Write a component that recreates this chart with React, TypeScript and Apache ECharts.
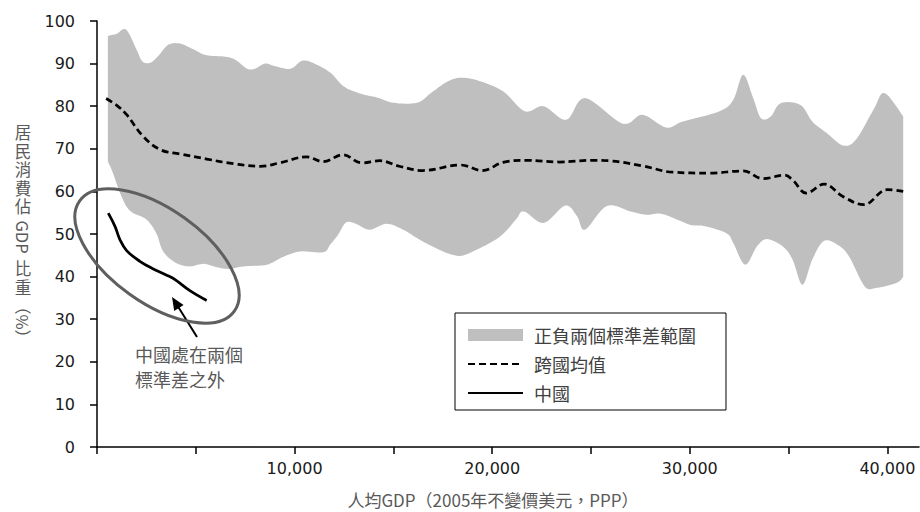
import React, { useEffect, useRef } from "react";
import * as echarts from "echarts";

// ---- data (x: per-capita GDP, 2005 constant USD PPP; y: % of GDP) ----
const xTickValues = [0, 5000, 10000, 15000, 20000, 25000, 30000, 35000, 40000];
const xLabelValues = [10000, 20000, 30000, 40000];

const upperBand: [number, number][] = [
  [550, 96.5], [1000, 97.0], [1470, 98.0], [2000, 93.3], [2300, 90.5], [2700, 90.2],
  [3100, 91.8], [3600, 94.4], [4200, 94.7], [4900, 93.3], [5500, 92.0], [6500, 91.6],
  [7000, 90.9], [7600, 88.8], [8000, 88.8], [8500, 90.0], [9100, 89.3], [9800, 88.8],
  [10400, 90.7], [11000, 90.0], [11800, 87.9], [12500, 84.6], [13300, 83.0], [14200, 82.0],
  [15000, 80.8], [16200, 80.8], [16900, 83.1], [17700, 85.7], [18400, 86.7], [19300, 86.0],
  [20550, 83.5], [21650, 78.8], [22600, 80.0], [23750, 76.8], [24700, 81.9], [26600, 75.9],
  [27600, 78.0], [28800, 75.0], [29650, 76.4], [31500, 78.8], [32200, 81.5], [32700, 87.4],
  [33200, 82.0], [33600, 77.2], [34100, 77.6], [34600, 80.7], [35600, 80.3], [36200, 76.4],
  [36900, 73.8], [37750, 70.8], [38400, 72.1], [39300, 79.2], [39850, 83.1], [40800, 77.6],
];

const lowerBand: [number, number][] = [
  [550, 67.0], [800, 64.4], [1160, 59.7], [1500, 56.4], [1840, 54.9], [2500, 53.4],
  [3000, 50.2], [3350, 45.9], [4000, 43.2], [4700, 42.4], [5400, 43.0], [6050, 42.2],
  [6700, 41.8], [7400, 42.4], [8600, 42.8], [9400, 44.6], [10300, 45.9], [11450, 45.7],
  [11800, 47.5], [12200, 49.8], [12600, 52.7], [13100, 52.4], [13800, 51.0], [14650, 52.4],
  [15500, 51.0], [16700, 47.7], [18200, 44.9], [19200, 46.3], [20400, 49.4], [21200, 53.4],
  [21600, 55.3], [22600, 52.6], [23700, 56.7], [24300, 54.1], [24700, 51.0], [25800, 56.6],
  [27000, 55.3], [27800, 54.5], [28600, 54.7], [30000, 52.2], [30700, 51.9], [31850, 50.2],
  [32200, 47.9], [32800, 42.8], [33400, 47.1], [33900, 48.8], [34700, 47.1], [35200, 44.0],
  [35700, 38.1], [36200, 44.0], [36800, 48.4], [37600, 47.1], [38100, 44.4], [38850, 37.7],
  [39400, 37.3], [40450, 38.5], [40800, 39.9],
];

const crossCountryMean: [number, number][] = [
  [460, 81.8], [1000, 80.2], [1500, 78.0], [2340, 72.9], [3200, 69.8], [4200, 68.8],
  [5550, 67.6], [6900, 66.5], [8250, 65.9], [9250, 66.7], [10600, 68.1], [11450, 67.0],
  [12450, 68.6], [13400, 66.7], [14300, 67.2], [15300, 65.9], [16500, 64.9], [18400, 66.2],
  [19500, 64.9], [20550, 66.8], [21700, 67.3], [23400, 66.9], [25100, 67.3], [25900, 67.2],
  [27600, 66.0], [29150, 64.5], [31000, 64.3], [32700, 64.8], [33700, 63.0], [34800, 63.8],
  [35200, 62.7], [35900, 59.6], [36800, 61.7], [37750, 58.8], [38800, 56.9], [40000, 60.4],
  [40800, 60.0],
];

const china: [number, number][] = [
  [570, 54.9], [910, 51.8], [1160, 48.7], [1500, 46.1], [2170, 43.6], [2850, 41.8],
  [3500, 40.4], [3950, 39.3], [4700, 36.7], [5550, 34.4],
];

const seriesNames = ["正負兩個標準差範圍", "跨國均值", "中國"];
const xAxisTitle = "人均GDP（2005年不變價美元，PPP）";
const annotationText = "中國處在兩個\n標準差之外";

// ---- helpers ----
const CJK = '"Noto Sans CJK TC", "Noto Sans CJK SC", sans-serif';
const NUM = '"DejaVu Sans", Verdana, sans-serif';

function smoothPoints(pts: number[][], steps = 8): number[][] {
  const out: number[][] = [];
  const n = pts.length;
  for (let i = 0; i < n - 1; i++) {
    const p0 = pts[Math.max(i - 1, 0)];
    const p1 = pts[i];
    const p2 = pts[i + 1];
    const p3 = pts[Math.min(i + 2, n - 1)];
    for (let s = 0; s < steps; s++) {
      const t = s / steps;
      const t2 = t * t;
      const t3 = t2 * t;
      const f = (k: number) =>
        0.5 *
        (2 * p1[k] +
          (-p0[k] + p2[k]) * t +
          (2 * p0[k] - 5 * p1[k] + 4 * p2[k] - p3[k]) * t2 +
          (-p0[k] + 3 * p1[k] - 3 * p2[k] + p3[k]) * t3);
      out.push([f(0), f(1)]);
    }
  }
  out.push(pts[n - 1]);
  return out;
}

// vertical y-axis title: CJK upright, Latin runs rotated (as in vertical writing)
function yAxisNameGraphics(): any[] {
  const color = "#595959";
  const x = 23;
  const items: { t: string; y: number; rot: boolean }[] = [
    { t: "居\n民\n消\n費\n佔", y: 169, rot: false },
    { t: "GDP", y: 237, rot: true },
    { t: "比\n重", y: 277.5, rot: false },
    { t: "（%）", y: 322, rot: true },
  ];
  return items.map((it) => ({
    type: "text",
    x,
    y: it.y,
    rotation: it.rot ? -Math.PI / 2 : 0,
    silent: true,
    style: {
      text: it.t,
      fill: color,
      font: `16.5px ${CJK}`,
      lineHeight: 18.5,
      align: "center",
      verticalAlign: "middle",
    },
  }));
}

function arrowGraphics(): any[] {
  const tail = [197, 337];
  const tip = [172, 297];
  const dx = tip[0] - tail[0];
  const dy = tip[1] - tail[1];
  const len = Math.sqrt(dx * dx + dy * dy);
  const ux = dx / len;
  const uy = dy / len;
  const headLen = 13;
  const half = 5.5;
  const bx = tip[0] - ux * headLen;
  const by = tip[1] - uy * headLen;
  const nx = -uy;
  const ny = ux;
  return [
    {
      type: "line",
      silent: true,
      shape: { x1: tail[0], y1: tail[1], x2: bx + ux * 2, y2: by + uy * 2 },
      style: { stroke: "#000", lineWidth: 2 },
    },
    {
      type: "polygon",
      silent: true,
      shape: {
        points: [
          [tip[0], tip[1]],
          [bx + nx * half, by + ny * half],
          [bx - nx * half, by - ny * half],
        ],
      },
      style: { fill: "#000" },
    },
  ];
}

export default function App() {
  const ref = useRef<HTMLDivElement>(null);

  useEffect(() => {
    if (!ref.current) return;
    const chart = echarts.init(ref.current, null, { renderer: "svg" });

    const option: any = {
      animation: false,
      backgroundColor: "#ffffff",
      grid: { left: 97, top: 21, width: 822, height: 426, containLabel: false },
      xAxis: {
        type: "value",
        min: 0,
        max: 41600,
        splitLine: { show: false },
        axisLine: { show: true, lineStyle: { color: "#000", width: 1.5 } },
        axisTick: {
          show: true,
          inside: false,
          length: 7,
          customValues: xTickValues,
          lineStyle: { color: "#000", width: 1.5 },
        },
        axisLabel: {
          customValues: xLabelValues,
          margin: 13,
          color: "#1a1a1a",
          fontSize: 16,
          fontFamily: NUM,
          formatter: (v: number) => v.toLocaleString("en-US"),
        },
      },
      yAxis: {
        type: "value",
        min: 0,
        max: 100,
        interval: 10,
        splitLine: { show: false },
        axisLine: { show: true, lineStyle: { color: "#000", width: 1.5 } },
        axisTick: { show: true, length: 7, lineStyle: { color: "#000", width: 1.5 } },
        axisLabel: {
          margin: 22,
          color: "#1a1a1a",
          fontSize: 16,
          fontFamily: NUM,
        },
      },
      legend: {
        show: true,
        orient: "vertical",
        left: 455,
        top: 313,
        selectedMode: false,
        borderColor: "#000",
        borderWidth: 1,
        padding: [12, 30, 7, 12],
        itemGap: 9,
        itemWidth: 55,
        itemHeight: 12,
        textStyle: {
          fontSize: 18,
          fontFamily: CJK,
          color: "#404040",
          lineHeight: 20,
          padding: [0, 0, 0, 6],
        },
        data: [
          { name: seriesNames[0], icon: "rect", itemStyle: { color: "#BFBFBF" } },
          { name: seriesNames[1], itemStyle: { opacity: 0 } },
          { name: seriesNames[2], itemStyle: { opacity: 0 } },
        ],
      },
      series: [
        {
          name: seriesNames[0],
          type: "custom",
          silent: true,
          itemStyle: { color: "#BFBFBF" },
          data: [[20000, 60]],
          encode: { x: 0, y: 1 },
          z: 1,
          renderItem: (params: any, api: any) => {
            if (params.dataIndex !== 0) return null;
            const up = upperBand.map((p) => api.coord(p));
            const lo = lowerBand.map((p) => api.coord(p));
            const pts = smoothPoints(up).concat(smoothPoints(lo).reverse());
            return {
              type: "polygon",
              shape: { points: pts },
              style: { fill: "#BFBFBF", stroke: "none" },
            };
          },
        },
        {
          name: seriesNames[1],
          type: "line",
          data: crossCountryMean,
          smooth: 0.4,
          showSymbol: false,
          symbol: "none",
          z: 3,
          itemStyle: { color: "#000" },
          lineStyle: { color: "#000", width: 2.75, type: [7, 4] },
        },
        {
          name: seriesNames[2],
          type: "line",
          data: china,
          smooth: 0.4,
          showSymbol: false,
          symbol: "none",
          z: 4,
          itemStyle: { color: "#000" },
          lineStyle: { color: "#000", width: 2.75, type: "solid" },
        },
      ],
      graphic: [
        ...yAxisNameGraphics(),
        {
          type: "text",
          x: 493,
          y: 499,
          silent: true,
          style: {
            text: xAxisTitle,
            fill: "#595959",
            font: `17px ${CJK}`,
            align: "center",
            verticalAlign: "middle",
          },
        },
        {
          type: "ellipse",
          x: 157,
          y: 256,
          rotation: -0.62,
          silent: true,
          z: 100,
          shape: { cx: 0, cy: 0, rx: 95, ry: 47 },
          style: { fill: "none", stroke: "#5f5f5f", lineWidth: 3 },
        },
        ...arrowGraphics(),
        {
          type: "text",
          x: 135,
          y: 341,
          silent: true,
          style: {
            text: annotationText,
            fill: "#595959",
            font: `18px ${CJK}`,
            lineHeight: 25,
            align: "left",
            verticalAlign: "top",
          },
        },
      ],
    };

    chart.setOption(option);
    return () => chart.dispose();
  }, []);

  return (
    <div
      ref={ref}
      style={{ position: "fixed", left: 0, top: 0, width: 920, height: 512, background: "#fff" }}
    />
  );
}
